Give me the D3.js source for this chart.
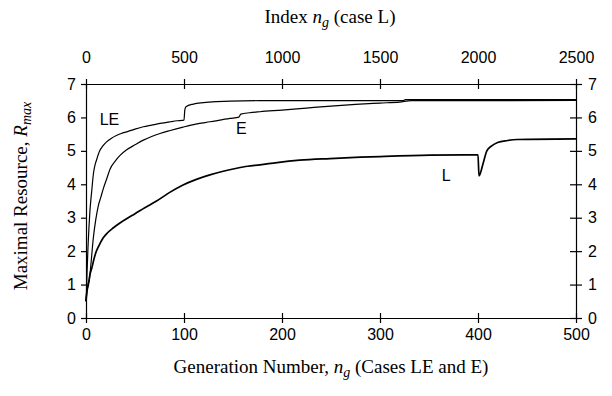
<!DOCTYPE html>
<html>
<head>
<meta charset="utf-8">
<script src="https://cdn.jsdelivr.net/npm/d3@7"></script>
<style>
  body { margin: 0; background: #fff; }
  .tick text { font-family: Arial, "Liberation Sans", sans-serif; font-size: 16px; fill: #000; }
  .title { font-family: "Times New Roman", "Liberation Serif", serif; font-size: 19px; fill: #000; }
  .lab { font-family: Arial, "Liberation Sans", sans-serif; font-size: 16px; fill: #000; }
</style>
</head>
<body>
<svg width="612" height="396"></svg>
<script>
// case LE (generation number)
var leGen = [0, 0.5, 1, 2, 3, 4, 5, 6, 7.5, 9, 11, 14, 17, 21, 26, 31, 36, 41.5, 50, 58.5, 67, 75.5, 86, 93, 100, 100.8, 102, 109.5, 120, 133, 147, 177, 220, 280, 323, 326, 420, 500];
var leVal = [0.5, 0.8, 1.3, 2.1, 2.7, 3.2, 3.55, 3.85, 4.3, 4.55, 4.75, 5.0, 5.14, 5.27, 5.38, 5.46, 5.52, 5.57, 5.65, 5.72, 5.77, 5.82, 5.87, 5.9, 5.92, 6.22, 6.32, 6.4, 6.44, 6.47, 6.49, 6.5, 6.5, 6.5, 6.5, 6.53, 6.53, 6.53];

// case E (generation number)
var eGen = [0, 1, 2, 3.5, 5, 7.5, 10, 12.5, 15, 18, 21, 24.5, 30, 35, 41.5, 50, 58.5, 67, 75.5, 86, 99, 112, 126.5, 147, 156, 158, 167, 177.5, 200, 225, 250, 275, 300, 320, 332, 400, 500];
var eVal = [0.5, 0.8, 1.0, 1.15, 1.6, 2.4, 2.95, 3.35, 3.6, 3.9, 4.15, 4.45, 4.7, 4.87, 5.03, 5.18, 5.32, 5.43, 5.52, 5.61, 5.71, 5.8, 5.87, 5.97, 6.01, 6.1, 6.14, 6.17, 6.22, 6.28, 6.34, 6.39, 6.43, 6.46, 6.5, 6.5, 6.51];

// case L (index)
var lIdx = [0, 5, 12, 20, 30, 40, 50, 65, 88, 110, 140, 175, 207, 250, 300, 360, 425, 495, 560, 632, 700, 769, 825, 887, 975, 1090, 1245, 1400, 1500, 1755, 2000, 2005, 2025, 2045, 2070, 2100, 2150, 2200, 2500];
var lVal = [0.5, 0.8, 1.0, 1.3, 1.5, 1.75, 1.95, 2.15, 2.4, 2.55, 2.7, 2.85, 2.97, 3.12, 3.3, 3.5, 3.75, 3.98, 4.14, 4.28, 4.39, 4.48, 4.54, 4.58, 4.65, 4.72, 4.77, 4.81, 4.83, 4.87, 4.88, 4.25, 4.6, 5.0, 5.15, 5.25, 5.31, 5.34, 5.36];

var yTicks = [0, 1, 2, 3, 4, 5, 6, 7];
var genTicks = [0, 100, 200, 300, 400, 500];
var idxTicks = [0, 500, 1000, 1500, 2000, 2500];

var svg = d3.select('svg');
var m = { l: 86, r: 576, t: 84, b: 318 };

var x = d3.scaleLinear().domain([0, 500]).range([m.l, m.r]);
var xTop = d3.scaleLinear().domain([0, 2500]).range([m.l, m.r]);
var y = d3.scaleLinear().domain([0, 7]).range([m.b, m.t]);
var fmt = d3.format('d');

function styleAxis(g, cross) {
    g.select('.domain').attr('stroke', '#000').attr('stroke-width', 1.2);
    var lines = g.selectAll('.tick line').attr('stroke', '#000').attr('stroke-width', 1.2);
    if (cross) lines.each(function () {
        var l = d3.select(this);
        if (l.attr('y2') !== null && +l.attr('y2') !== 0) l.attr('y1', -l.attr('y2'));
        if (l.attr('x2') !== null && +l.attr('x2') !== 0) l.attr('x1', -l.attr('x2'));
    });
}

svg.append('g').attr('transform', `translate(0,${m.b})`)
    .call(d3.axisBottom(x).tickValues(genTicks).tickFormat(fmt).tickSize(5).tickSizeOuter(0).tickPadding(6))
    .call(g => styleAxis(g, true));

svg.append('g').attr('transform', `translate(0,${m.t})`)
    .call(d3.axisTop(xTop).tickValues(idxTicks).tickFormat(fmt).tickSize(5).tickSizeOuter(0).tickPadding(16))
    .call(g => styleAxis(g, true));

svg.append('g').attr('transform', `translate(${m.l},0)`)
    .call(d3.axisLeft(y).tickValues(yTicks).tickFormat(fmt).tickSize(5).tickSizeOuter(0).tickPadding(5))
    .call(g => styleAxis(g, false));

svg.append('g').attr('transform', `translate(${m.r},0)`)
    .call(d3.axisRight(y).tickValues(yTicks).tickFormat(fmt).tickSize(6).tickSizeOuter(0).tickPadding(6))
    .call(g => styleAxis(g, true));

var lineGen = d3.line().x(d => x(d[0])).y(d => y(d[1])).curve(d3.curveMonotoneX);
var lineIdx = d3.line().x(d => xTop(d[0])).y(d => y(d[1])).curve(d3.curveMonotoneX);

svg.append('path').datum(d3.zip(leGen, leVal))
    .attr('d', lineGen).attr('fill', 'none').attr('stroke', '#000').attr('stroke-width', 1.2);
svg.append('path').datum(d3.zip(eGen, eVal))
    .attr('d', lineGen).attr('fill', 'none').attr('stroke', '#000').attr('stroke-width', 1.2);
svg.append('path').datum(d3.zip(lIdx, lVal))
    .attr('d', lineIdx).attr('fill', 'none').attr('stroke', '#000').attr('stroke-width', 1.7);

// curve labels
svg.append('text').attr('class', 'lab').attr('x', x(14)).attr('y', y(5.78)).text('LE');
svg.append('text').attr('class', 'lab').attr('x', x(153)).attr('y', y(5.5)).text('E');
svg.append('text').attr('class', 'lab').attr('x', xTop(1815)).attr('y', y(4.1)).text('L');

// axis titles
var t1 = svg.append('text').attr('class', 'title').attr('x', 330).attr('y', 23).attr('text-anchor', 'middle');
t1.append('tspan').text('Index ');
t1.append('tspan').style('font-style', 'italic').text('n');
t1.append('tspan').style('font-style', 'italic').attr('font-size', 14).attr('dy', 4).text('g');
t1.append('tspan').attr('dy', -4).text(' (case L)');

var t2 = svg.append('text').attr('class', 'title').attr('x', 331).attr('y', 373).attr('text-anchor', 'middle');
t2.append('tspan').text('Generation Number, ');
t2.append('tspan').style('font-style', 'italic').text('n');
t2.append('tspan').style('font-style', 'italic').attr('font-size', 14).attr('dy', 4).text('g');
t2.append('tspan').attr('dy', -4).text(' (Cases LE and E)');

var t3 = svg.append('text').attr('class', 'title').attr('text-anchor', 'middle')
    .attr('transform', 'translate(27,196) rotate(-90)');
t3.append('tspan').text('Maximal Resource, ');
t3.append('tspan').style('font-style', 'italic').text('R');
t3.append('tspan').style('font-style', 'italic').attr('font-size', 14).attr('dy', 4).text('max');
</script>
</body>
</html>
